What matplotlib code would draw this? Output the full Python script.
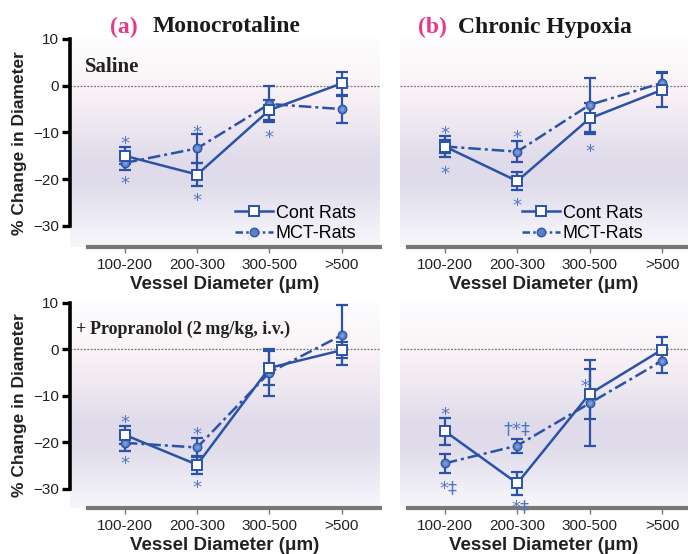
import numpy as np
import matplotlib
matplotlib.use("Agg")
import matplotlib.pyplot as plt
from matplotlib.lines import Line2D

# ---------------- data ----------------
categories = ["100-200", "200-300", "300-500", ">500"]

# (a) Monocrotaline, Saline
a_sal_cont = [-15.0, -19.0, -5.2, 0.5]
a_sal_cont_err = [1.8, 2.4, 2.1, 2.4]
a_sal_mct = [-16.5, -13.4, -3.9, -5.0]
a_sal_mct_err = [1.5, 3.1, 3.8, 2.9]

# (b) Chronic hypoxia, Saline
b_sal_cont = [-13.0, -20.4, -7.0, -0.9]
b_sal_cont_err = [1.3, 1.9, 3.4, 3.7]
b_sal_mct = [-13.0, -14.1, -4.1, 0.6]
b_sal_mct_err = [2.3, 2.2, 5.7, 2.3]

# (a) Monocrotaline, + Propranolol
a_pro_cont = [-18.4, -24.8, -4.0, -0.2]
a_pro_cont_err = [2.0, 1.9, 3.6, 1.7]
a_pro_mct = [-20.1, -21.1, -5.0, 3.0]
a_pro_mct_err = [1.7, 2.0, 5.0, 6.4]

# (b) Chronic hypoxia, + Propranolol
b_pro_cont = [-17.6, -28.8, -9.6, -0.1]
b_pro_cont_err = [2.9, 2.5, 5.4, 2.8]
b_pro_mct = [-24.5, -20.7, -11.6, -2.5]
b_pro_mct_err = [2.1, 1.5, 9.2, 2.5]

# significance marks: (category index, value, label)
a_sal_marks = [(0, -11.4, "*"), (0, -20.0, "*"), (1, -9.1, "*"), (1, -23.7, "*"), (2, -10.2, "*")]
b_sal_marks = [(0, -9.3, "*"), (0, -17.9, "*"), (1, -10.2, "*"), (1, -24.8, "*"), (2, -13.2, "*")]
a_pro_marks = [(0, -14.9, "*"), (0, -23.7, "*"), (1, -17.5, "*"), (1, -28.8, "*")]
b_pro_marks = [(0, -13.2, "*"), (0, -28.9, "*‡"), (1, -16.2, "†*‡"), (1, -32.9, "*‡"), (1.94, -7.0, "*")]

yticks = [10, 0, -10, -20, -30]
ytick_labels = ["10", "0", "\u221210", "\u221220", "\u221230"]

panel_titles = ["(a)", "(b)"]
panel_names = ["Monocrotaline", "Chronic Hypoxia"]
row_notes = ["Saline", "+\u2009Propranolol (2\u2009mg/kg, i.v.)"]

# ---------------- style ----------------
BLUE = "#2a52a6"
MARK_BLUE = "#5a7fc6"
MARK_HI = "#7d9bd8"
STAR_BLUE = "#4d78c0"
PINK = "#e8388a"
SANS = "Liberation Sans"
SERIF = "Liberation Serif"

W, H = 688, 554
fig = plt.figure(figsize=(W / 100, H / 100), dpi=100)


def px_axes(x0, y0, x1, y1):
    return fig.add_axes([x0 / W, 1 - y1 / H, (x1 - x0) / W, (y1 - y0) / H])


# background gradient
stops_y = np.array([10, 4, -2, -8, -16, -21, -27, -32, -35])
stops_c = np.array([
    [252, 251, 253], [251, 248, 250], [248, 240, 245], [238, 232, 241],
    [223, 219, 234], [224, 220, 235], [234, 232, 242], [244, 243, 249], [248, 248, 251]]) / 255.0


def draw_bg(ax, ylo, yhi):
    ys = np.linspace(yhi, ylo, 300)
    cols = np.stack([np.interp(ys, stops_y[::-1], stops_c[::-1, k]) for k in range(3)], axis=-1)
    img = np.repeat(cols[:, None, :], 2, axis=1)
    ax.imshow(img, extent=[0, 1, 0, 1], transform=ax.transAxes, aspect="auto",
              zorder=0, interpolation="bilinear")


def panel(ax, cont, cont_err, mct, mct_err, marks, ylo, show_y, xlim, legend_anchor, note):
    draw_bg(ax, ylo, 10)
    x = np.arange(len(categories))
    ax.axhline(0, color="#777777", lw=0.9, ls=(0, (1.5, 1.2)), zorder=1)
    ax.errorbar(x, mct, yerr=mct_err, fmt="none", ecolor=BLUE, elinewidth=1.6,
                capsize=4.3, capthick=1.6, zorder=2)
    ax.errorbar(x, cont, yerr=cont_err, fmt="none", ecolor=BLUE, elinewidth=1.6,
                capsize=4.3, capthick=1.6, zorder=2)
    ax.plot(x, cont, color=BLUE, lw=1.8, ls="-", marker="s", ms=6.8, mfc="white",
            mec=BLUE, mew=1.4, zorder=4)
    ax.plot(x, mct, color=BLUE, lw=1.8, ls=(0, (5, 1.6, 1.2, 1.6)), marker="o", ms=6.2,
            mfc=MARK_BLUE, mec=BLUE, mew=0.9, zorder=3)
    ax.plot(x, mct, ls="none", marker="o", ms=2.8, mfc=MARK_HI, mec="none", zorder=3.1)
    for i, v, lab in marks:
        if lab.startswith("*") and len(lab) > 1:
            ha, dx = "left", -4.0
        else:
            ha, dx = "center", 0.0
        ax.annotate(lab, (i, v), xytext=(dx, -7.0), textcoords="offset points",
                    color=STAR_BLUE, fontsize=13, ha=ha, va="baseline",
                    family=["DejaVu Sans"], zorder=5)
    ax.set_xlim(*xlim)
    ax.set_ylim(ylo, 10)
    ax.set_xticks(x)
    ax.set_xticklabels(categories, fontsize=11, family=SANS, color="#222222")
    ax.set_xlabel("Vessel Diameter (\u03bcm)", fontsize=13.5, family=SANS,
                  fontweight="bold", color="#222222", labelpad=3)
    ax.tick_params(axis="x", length=4, width=1, color="#777777", pad=4)
    for s in ("top", "right"):
        ax.spines[s].set_visible(False)
    ax.spines["bottom"].set_color("#777777")
    ax.spines["bottom"].set_linewidth(3)
    ax.spines["bottom"].set_bounds(-0.51, xlim[1])
    if show_y:
        ax.spines["left"].set_color("black")
        ax.spines["left"].set_linewidth(2.6)
        ax.spines["left"].set_bounds(-30, 10)
        ax.set_yticks(yticks)
        ax.set_yticklabels(ytick_labels, fontsize=11, family=SANS, color="#222222")
        ax.tick_params(axis="y", length=6, width=2.4, color="black", pad=2)
        ax.set_ylabel("% Change in Diameter", fontsize=12.5, family=SANS,
                      fontweight="bold", color="#222222", labelpad=4)
    else:
        ax.spines["left"].set_visible(False)
        ax.set_yticks([])
    if note == row_notes[0]:
        ax.text(-0.56, 4.1, note, family=SERIF, fontweight="bold", fontsize=15,
                ha="left", va="center", color="#222222", zorder=5)
    elif note:
        ax.text(-0.68, 4.3, note, family=SERIF, fontweight="bold", fontsize=13,
                ha="left", va="center", color="#222222", zorder=5)
    if legend_anchor is not None:
        h1 = Line2D([], [], color=BLUE, lw=1.8, marker="s", ms=6.8, mfc="white", mec=BLUE, mew=1.4)
        h2 = Line2D([], [], color=BLUE, lw=1.8, ls=(0, (3, 1.3, 1, 1.3)), marker="o", ms=6.2,
                    mfc=MARK_BLUE, mec=BLUE, mew=0.9)
        ax.legend([h1, h2], ["Cont Rats", "MCT-Rats"], loc="lower right",
                  bbox_to_anchor=legend_anchor, frameon=False, handlelength=2.1,
                  handletextpad=0.15, labelspacing=0.2, borderpad=0.1,
                  prop={"family": SANS, "size": 13})


xlim_a = (-0.76, 3.53)
xlim_b = (-0.62, 3.36)

ax1 = px_axes(70, 39, 380, 247)
panel(ax1, a_sal_cont, a_sal_cont_err, a_sal_mct, a_sal_mct_err, a_sal_marks, -34.5, True,
      xlim_a, (0.958, -0.03), row_notes[0])
ax2 = px_axes(400, 39, 688, 247)
panel(ax2, b_sal_cont, b_sal_cont_err, b_sal_mct, b_sal_mct_err, b_sal_marks, -34.5, False,
      xlim_b, (0.882, -0.03), None)
ax3 = px_axes(70, 302.7, 380, 508)
panel(ax3, a_pro_cont, a_pro_cont_err, a_pro_mct, a_pro_mct_err, a_pro_marks, -34.1, True,
      xlim_a, None, row_notes[1])
ax4 = px_axes(400, 302.7, 688, 508)
panel(ax4, b_pro_cont, b_pro_cont_err, b_pro_mct, b_pro_mct_err, b_pro_marks, -34.1, False,
      xlim_b, None, None)

# panel titles
for tag, name, x0, gap in [(panel_titles[0], panel_names[0], 110, 43), (panel_titles[1], panel_names[1], 418, 40)]:
    fig.text(x0 / W, 1 - 27 / H, tag, color=PINK, family=SERIF, fontweight="bold",
             fontsize=17, ha="left", va="center")
    fig.text((x0 + gap) / W, 1 - 27 / H, name, color="#1a1a1a",
             family=SERIF, fontweight="bold", fontsize=17, ha="left", va="center")

fig.savefig("out.png", dpi=100)
